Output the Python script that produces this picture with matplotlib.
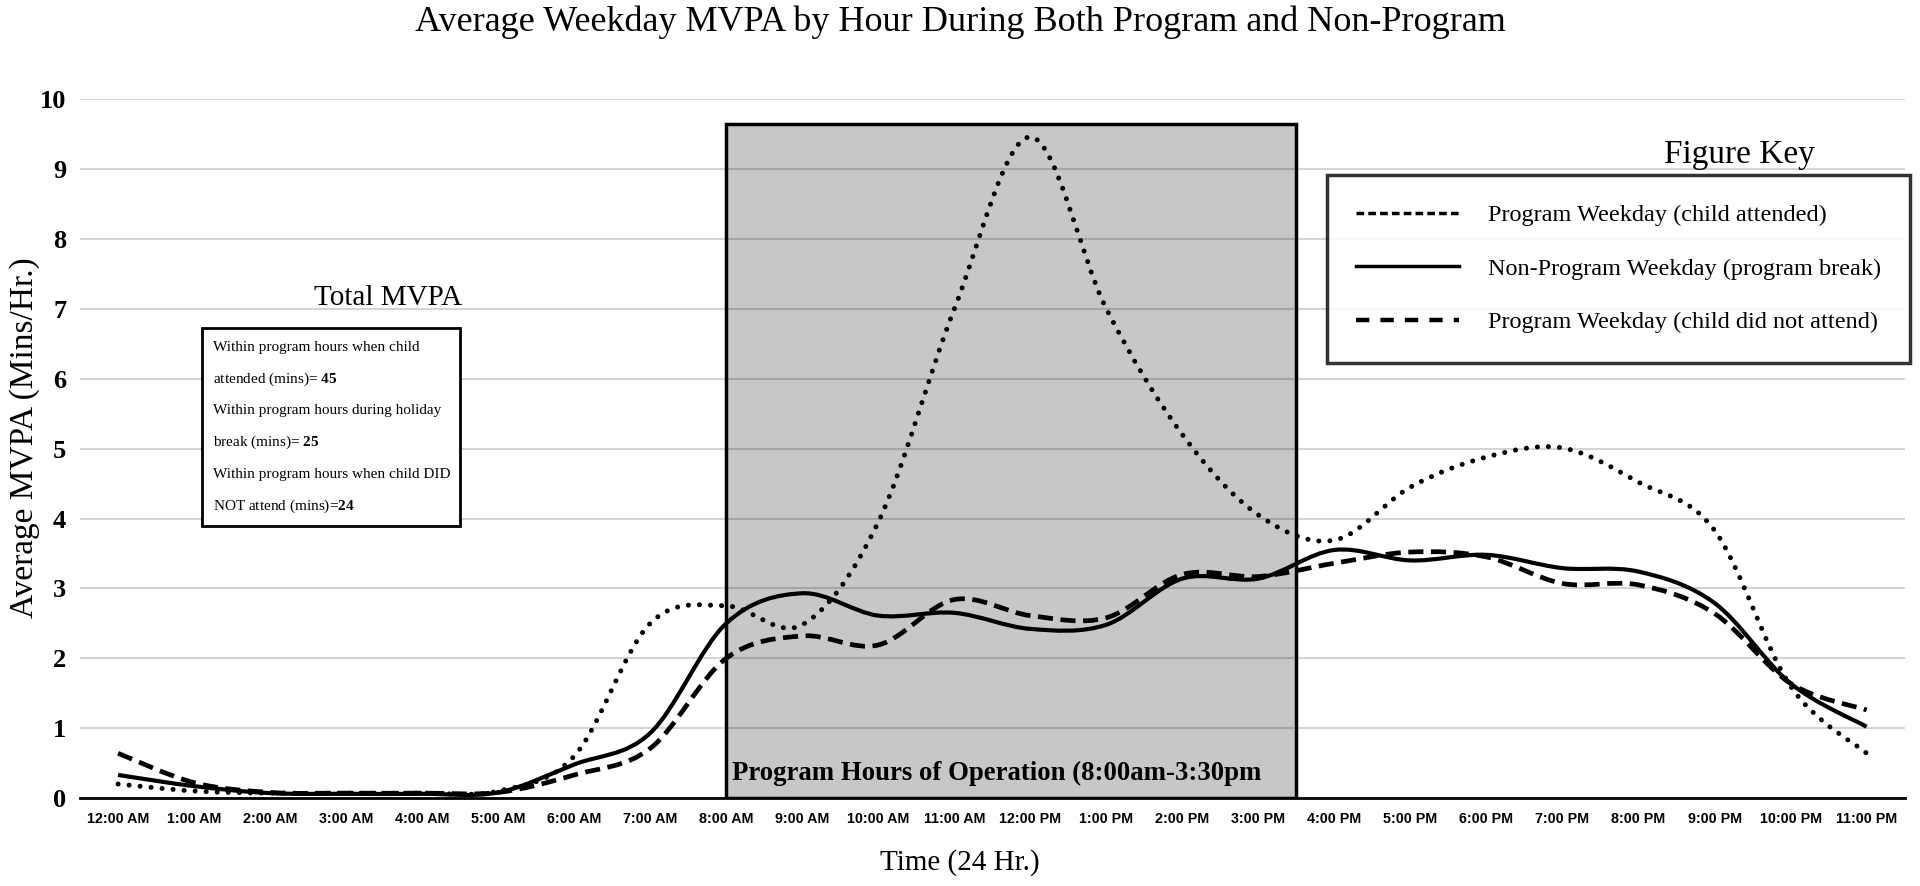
import matplotlib.pyplot as plt
import numpy as np
from matplotlib.path import Path
from matplotlib.patches import PathPatch, Rectangle
from matplotlib.lines import Line2D

hours = ["12:00 AM", "1:00 AM", "2:00 AM", "3:00 AM", "4:00 AM", "5:00 AM",
         "6:00 AM", "7:00 AM", "8:00 AM", "9:00 AM", "10:00 AM", "11:00 AM",
         "12:00 PM", "1:00 PM", "2:00 PM", "3:00 PM", "4:00 PM", "5:00 PM",
         "6:00 PM", "7:00 PM", "8:00 PM", "9:00 PM", "10:00 PM", "11:00 PM"]

attended = [0.20, 0.10, 0.07, 0.07, 0.07, 0.10, 0.60, 2.50, 2.75, 2.48, 3.95, 7.00,
            9.46, 7.00, 5.20, 4.05, 3.69, 4.45, 4.88, 5.01, 4.52, 3.83, 1.60, 0.64]
no_program = [0.33, 0.17, 0.07, 0.06, 0.06, 0.08, 0.48, 0.93, 2.50, 2.93, 2.61, 2.65,
              2.42, 2.48, 3.14, 3.14, 3.55, 3.40, 3.48, 3.29, 3.24, 2.79, 1.64, 1.02]
not_attended = [0.64, 0.22, 0.08, 0.07, 0.07, 0.08, 0.33, 0.71, 2.00, 2.32, 2.19, 2.84,
                2.61, 2.58, 3.20, 3.17, 3.36, 3.52, 3.45, 3.07, 3.05, 2.64, 1.64, 1.26]

labels = ["Program Weekday (child attended)",
          "Non-Program Weekday (program break)",
          "Program Weekday (child did not attend)"]

program_start, program_end = 8.0, 15.5   # 8:00am - 3:30pm

box_lines = ["Within program hours when child",
             r"attended (mins)= $\mathbf{45}$",
             "Within program hours during holiday",
             r"break (mins)= $\mathbf{25}$",
             "Within program hours when child DID",
             r"NOT attend (mins)=$\mathbf{24}$"]

plt.rcParams['font.family'] = ['Liberation Serif', 'DejaVu Serif']
plt.rcParams['mathtext.fontset'] = 'custom'
plt.rcParams['mathtext.bf'] = 'Liberation Serif:bold'
plt.rcParams['mathtext.rm'] = 'Liberation Serif'


def smooth_path(xs, ys):
    # excel-like smoothed line: catmull-rom segments as cubic bezier
    pts = np.column_stack([xs, ys]).astype(float)
    p = np.vstack([pts[0], pts, pts[-1]])
    verts = [pts[0]]
    codes = [Path.MOVETO]
    for i in range(1, len(p) - 2):
        c1 = p[i] + (p[i + 1] - p[i - 1]) / 6
        c2 = p[i + 1] - (p[i + 2] - p[i]) / 6
        verts += [c1, c2, p[i + 1]]
        codes += [Path.CURVE4] * 3
    return Path(verts, codes)


fig = plt.figure(figsize=(19.2, 8.86), dpi=100)
ax = fig.add_axes([0.0417, 0.0993, 0.9503, 0.7887])

x = np.arange(len(hours))
ax.set_xlim(-0.5, 23.5)
ax.set_ylim(0, 10)
ax.set_yticks(np.arange(0, 11, 1))
ax.set_xticks(x)
ax.set_xticklabels(hours, family=['Liberation Sans', 'DejaVu Sans'],
                   fontweight='bold', fontsize=10.3)
for t in ax.get_yticklabels():
    t.set_fontweight('bold')
    t.set_fontsize(19)
ax.tick_params(length=0, pad=10)
ax.tick_params(axis='y', pad=10)
ax.grid(axis='y', color='#d4d4d4', lw=1.5)
ax.set_axisbelow(True)
for s in ['top', 'right', 'left']:
    ax.spines[s].set_visible(False)
ax.spines['bottom'].set_linewidth(2)

# program hours block
ax.add_patch(Rectangle((program_start, 0), program_end - program_start, 9.65,
                       facecolor=(0, 0, 0, 0.22), edgecolor='black', lw=2.5, zorder=1))
ax.text(program_start + 0.08, 0.35, "Program Hours of Operation (8:00am-3:30pm",
        fontsize=19.3, fontweight='bold', va='center', ha='left', zorder=2)

styles = [
    dict(linestyle=(0, (0.01, 2.2)), lw=3.6, capstyle='round'),
    dict(linestyle='-', lw=3.0, capstyle='butt'),
    dict(linestyle=(0, (3.2, 1.6)), lw=3.4, capstyle='butt'),
]
for ys, st in zip([attended, no_program, not_attended], styles):
    pp = PathPatch(smooth_path(x, ys), facecolor='none', edgecolor='black',
                   lw=st['lw'], linestyle=st['linestyle'], zorder=3)
    pp.set_capstyle(st['capstyle'])
    ax.add_patch(pp)

# total MVPA box
ax.text(3.55, 7.16, "Total MVPA", fontsize=21, ha='center', va='center')
ax.add_patch(Rectangle((1.1, 3.89), 3.4, 2.83, facecolor='white',
                       edgecolor='black', lw=2, zorder=4))
for i, line in enumerate(box_lines):
    ax.text(1.25, 6.45 - i * 0.455, line, fontsize=11, ha='left', va='center', zorder=5)

# figure key
fig.text(1739 / 1920, 1 - 155 / 886, "Figure Key", fontsize=24, ha='center', va='center')
handles = [Line2D([], [], color='black', lw=2.5, linestyle=(0, (2.2, 1.2))),
           Line2D([], [], color='black', lw=2.5, linestyle='-'),
           Line2D([], [], color='black', lw=3.2, linestyle=(0, (3, 2.5)))]
leg = fig.legend(handles, labels, loc='upper right', bbox_to_anchor=(0.9948, 0.8025),
                 fontsize=17.5, frameon=True, fancybox=False, handlelength=4.2,
                 labelspacing=1.3, borderpad=1.2, handletextpad=1.2, borderaxespad=0)
leg.get_frame().set_edgecolor('black')
leg.get_frame().set_linewidth(2.5)

fig.suptitle("Average Weekday MVPA by Hour During Both Program and Non-Program",
             fontsize=26, y=1 - 22 / 886, va='center')
fig.text(0.5, 1 - 863 / 886, "Time (24 Hr.)", fontsize=21, ha='center', va='center')
ax.set_ylabel("Average MVPA (Mins/Hr.)", fontsize=24)
ax.yaxis.set_label_coords(-0.022, 0.516)

fig.savefig("out.png", dpi=100)
